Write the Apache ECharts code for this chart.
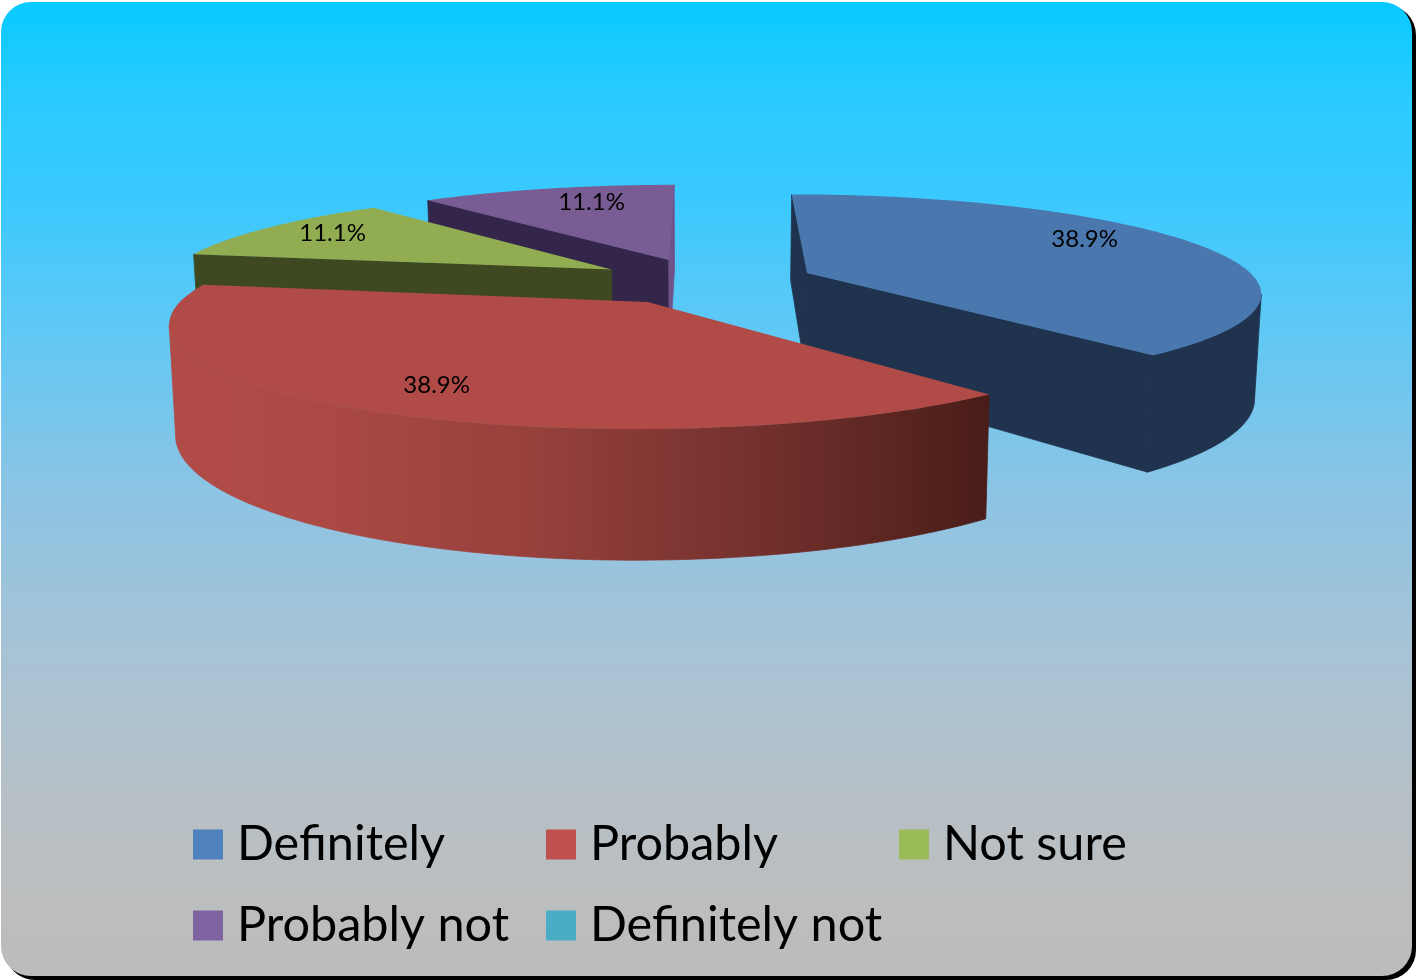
<!DOCTYPE html>
<html><head><meta charset="utf-8">
<style>html,body{margin:0;padding:0;background:#fff}#c{width:1416px;height:980px}</style>
<script src="https://cdn.jsdelivr.net/npm/echarts@6/dist/echarts.min.js"></script>
</head><body><div id="c"></div>
<script>
const categories = ['Definitely','Probably','Not sure','Probably not','Definitely not'];
const counts = [7,7,2,2,0];

const legendColors = ['#4f81bd','#c0504d','#9bbb59','#8064a2','#4bacc6'];
const topColors = ['#4a78ae','#b04b47','#91ac51','#785c93','#4bacc6'];
const startWall = ['#1f334e','#4a1d18','#3f4921','#33264a','#1f5060'];
const endWall = ['#1f334e','#4a1d18','#3f4921','#6f5389','#1f5060'];
const outerWall = ['#1f334e',null,'#3f4921','#33264a','#1f5060'];
const labelNudge = [[2,-13],[-19,13],[-33,-6],[12,-6],[0,0]];
const legendSpots = [[193,820],[546,820],[899,820],[193,901],[546,901]];
const drawOrder = [3,2,0,1,4];

const cam = {cx:705, cy:281, rx:450, ry:95.5, k:0.18, h:102.5, bottomScale:0.988, explode:0.245};
const total = counts.reduce((a,b)=>a+b,0);
const rad = d => d*Math.PI/180;

function project(u,v,lower){
  const w = 1/(1-cam.k*v);
  const s = lower ? cam.bottomScale : 1;
  return [cam.cx + cam.rx*u*w*s, cam.cy + cam.ry*v*w + (lower? cam.h*w : 0)];
}
function renderSlice(i){
  return function(params, api){
    const val = api.value(0);
    if(!val) return null;
    let before = 0; for(let j=0;j<i;j++) before += counts[j];
    const a0 = before/total*360, a1 = (before+val)/total*360, mid = (a0+a1)/2;
    const ox = cam.explode*Math.sin(rad(mid)), oy = -cam.explode*Math.cos(rad(mid));
    const pt = (a,f,low)=>project(ox+f*Math.sin(rad(a)), oy-f*Math.cos(rad(a)), low);
    const n = 120, topArc=[], lowArc=[];
    for(let s=0;s<=n;s++){ const a=a0+(a1-a0)*s/n; topArc.push(pt(a,1,false)); lowArc.push(pt(a,1,true)); }
    const A=pt(a0,0,false), Al=pt(a0,0,true);
    const P=pt(mid,1,false);
    const children=[];
    const wall=(ang,fill)=>{
      const O=pt(ang,1,false), Ol=pt(ang,1,true);
      const ex=O[0]-A[0], ey=O[1]-A[1];
      const c1=ex*1, c2=ex*(P[1]-A[1])-ey*(P[0]-A[0]);
      if(c1*c2<0) children.push({type:'polygon',shape:{points:[A,O,Ol,Al]},style:{fill,stroke:fill,lineWidth:0.8}});
    };
    wall(a0,startWall[i]); wall(a1,endWall[i]);
    // visible outer arc: the part where the rim runs right to left on screen
    let vTop=[], vLow=[];
    for(let s=0;s<n;s++){ if(topArc[s+1][0]<topArc[s][0]){ if(!vTop.length){vTop.push(topArc[s]);vLow.push(lowArc[s]);} vTop.push(topArc[s+1]);vLow.push(lowArc[s+1]); } }
    if(vTop.length){
      const fill = outerWall[i] || {type:'linear',x:170,y:0,x2:987,y2:0,global:true,colorStops:[
        {offset:0,color:'#b04b47'},{offset:0.16,color:'#ae4a46'},{offset:0.45,color:'#96403c'},{offset:0.75,color:'#6f2f2b'},{offset:1,color:'#4a1d18'}]};
      children.push({type:'polygon',shape:{points:vTop.concat(vLow.slice().reverse())},style:{fill,stroke:fill,lineWidth:0.8}});
    }
    children.push({type:'polygon',shape:{points:[A].concat(topArc)},style:{fill:topColors[i]}});
    const L=pt(mid,0.7,false);
    children.push({type:'text',style:{text:(val/total*100).toFixed(1)+'%',x:L[0]+labelNudge[i][0],y:L[1]+labelNudge[i][1],
      align:'center',verticalAlign:'middle',fill:'#000',font:'24px Lato'}});
    return {type:'group',children};
  };
}
const chart = echarts.init(document.getElementById('c'));
chart.setOption({
  animation:false,
  backgroundColor:'#fff',
  graphic:[
    {type:'rect',z:-20,silent:true,shape:{x:5,y:5,width:1411,height:975,r:30},style:{fill:'#000'}},
    {type:'rect',z:-10,silent:true,shape:{x:1,y:2,width:1411,height:974,r:30},style:{fill:{type:'linear',x:0,y:0,x2:0,y2:1,colorStops:[
      {offset:0,color:'#08caff'},{offset:0.1,color:'#2acbff'},{offset:0.2,color:'#3ac9fe'},{offset:0.33,color:'#5ec8f5'},{offset:0.5,color:'#8cc4e4'},
      {offset:0.66,color:'#a6c3d6'},{offset:0.82,color:'#b7c0c6'},{offset:0.93,color:'#bcbdbe'},{offset:1,color:'#bcbcbd'}]}}}
  ],
  legend: categories.map((name,i)=>({
    data:[name], left:legendSpots[i][0], top:legendSpots[i][1], padding:0, orient:'horizontal',
    icon:'rect', itemWidth:30, itemHeight:30, selectedMode:false,
    textStyle:{fontFamily:'Lato',fontSize:48.6,color:'#000',lineHeight:30,padding:[0,0,0,9]}
  })),
  series: drawOrder.map((i,o)=>({
    type:'custom', name:categories[i], coordinateSystem:'none', z:2+o, silent:true,
    itemStyle:{color:legendColors[i]}, data:[[counts[i]]], renderItem:renderSlice(i), clip:false
  }))
});
</script></body></html>
